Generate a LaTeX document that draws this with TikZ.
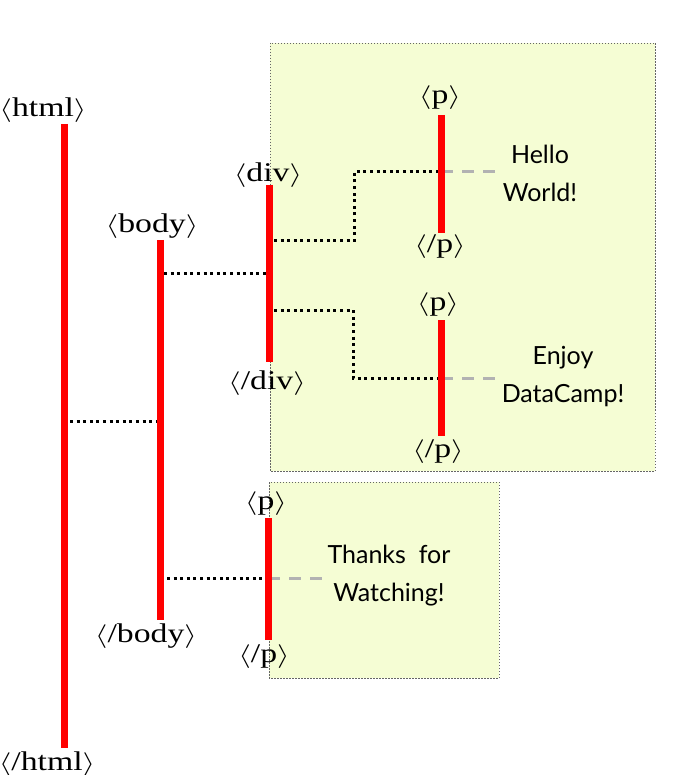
\documentclass[tikz,border=0pt]{standalone}
\usepackage{fontspec}
\usepackage{graphicx}
\setmainfont{Liberation Serif}[FakeStretch=1.25]
\newfontfamily\msgfont{Lato}
\newcommand{\tl}{\scalebox{1.3}[0.95]{$\langle$}}
\newcommand{\tr}{\scalebox{1.3}[0.95]{$\rangle$}}
\begin{document}
\begin{tikzpicture}[x=1pt,y=-1pt,
  tag/.style={font=\fontsize{27}{31}\selectfont, inner sep=0pt, anchor=base},
  msg/.style={font=\msgfont\fontsize{25}{38}\selectfont, inner sep=0pt, align=center},
  bar/.style={draw=red, line width=7pt},
  link/.style={draw=black, line width=3pt, dash pattern=on 3pt off 3.6pt},
  leaf/.style={draw=black!30, line width=3pt, dash pattern=on 12pt off 9pt},
  panel/.style={draw=black!60, line width=0.8pt, dash pattern=on 1.5pt off 1.5pt, fill={rgb,255:red,245;green,253;blue,212}}]
\useasboundingbox (0,0) rectangle (694,775);
\fill[white] (0,0) rectangle (694,775);
% panels
\path[panel] (270,43) rectangle (655,471);
\path[panel] (269,482) rectangle (499,678);
% bar end points
\coordinate (htmlT) at (64,124); \coordinate (htmlB) at (64,748);
\coordinate (bodyT) at (160,240); \coordinate (bodyB) at (160,620);
\coordinate (divT) at (269,185); \coordinate (divB) at (269,362);
\coordinate (p1T) at (441,115); \coordinate (p1B) at (441,233);
\coordinate (p2T) at (441,320); \coordinate (p2B) at (441,436);
\coordinate (p3T) at (268,518); \coordinate (p3B) at (268,640);
% link points
\coordinate (hb1) at (70,421); \coordinate (hb2) at (157,421);
\coordinate (bd1) at (164,273); \coordinate (bd2) at (266,273);
\coordinate (d1a) at (274,241); \coordinate (d1b) at (354,241); \coordinate (d1c) at (354,172); \coordinate (d1d) at (441,172);
\coordinate (d2a) at (274,310); \coordinate (d2b) at (353,310); \coordinate (d2c) at (353,378); \coordinate (d2d) at (441,378);
\coordinate (bp1) at (167,578); \coordinate (bp2) at (266,578);
\coordinate (l1e) at (495,172); \coordinate (l2e) at (495,378); \coordinate (l3e) at (322,578);
% connectors
\draw[link] (hb1) -- (hb2);
\draw[link] (bd1) -- (bd2);
\draw[link] (d1a) -- (d1b) -- (d1c) -- (d1d);
\draw[link] (d2a) -- (d2b) -- (d2c) -- (d2d);
\draw[link] (bp1) -- (bp2);
\draw[leaf] (d1d) -- (l1e);
\draw[leaf] (d2d) -- (l2e);
\draw[leaf] (p3T |- bp2) -- (l3e);
% bars
\draw[bar] (htmlT) -- (htmlB);
\draw[bar] (bodyT) -- (bodyB);
\draw[bar] (divT) -- (divB);
\draw[bar] (p1T) -- (p1B);
\draw[bar] (p2T) -- (p2B);
\draw[bar] (p3T) -- (p3B);
% tag labels
\node[tag] (htmlO) at (43,117) {\tl html\tr};
\node[tag] (htmlC) at (47,770) {\tl/html\tr};
\node[tag] (bodyO) at (152,233) {\tl body\tr};
\node[tag] (bodyC) at (146,642) {\tl/body\tr};
\node[tag] (divO) at (268,182) {\tl div\tr};
\node[tag] (divC) at (267,389) {\tl/div\tr};
\node[tag] (p1O) at (440,104) {\tl p\tr};
\node[tag] (p1C) at (440,253) {\tl/p\tr};
\node[tag] (p2O) at (438,310) {\tl p\tr};
\node[tag] (p2C) at (438,457) {\tl/p\tr};
\node[tag] (p3O) at (266,509) {\tl p\tr};
\node[tag] (p3C) at (264,662) {\tl/p\tr};
% messages
\node[msg] (m1) at (540,173) {Hello\\World!};
\node[msg] (m2) at (563,377) {Enjoy\\DataCamp!};
\node[msg] (m3) at (389,576) {Thanks\ \ for\\Watching!};
\end{tikzpicture}
\end{document}
